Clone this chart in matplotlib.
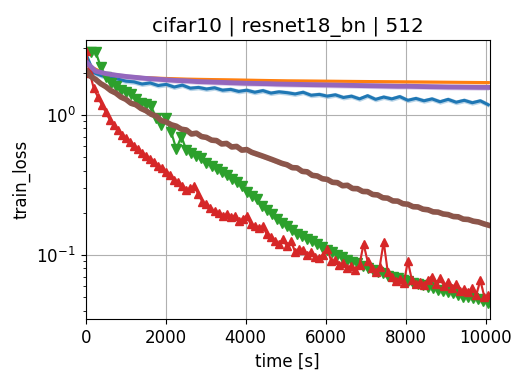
import numpy as np
import matplotlib
matplotlib.use('Agg')
import matplotlib.pyplot as plt

# train loss, one list per run
blue_loss = [2.75, 2.0, 1.9, 1.84, 1.8, 1.74, 1.72, 1.66, 1.69, 1.62, 1.65, 1.58, 1.63,
             1.55, 1.57, 1.53, 1.56, 1.5, 1.52, 1.47, 1.5, 1.45, 1.49, 1.43, 1.46, 1.44,
             1.41, 1.45, 1.38, 1.4, 1.36, 1.39, 1.33, 1.36, 1.3, 1.37, 1.29, 1.34, 1.3,
             1.35, 1.27, 1.31, 1.26, 1.3, 1.24, 1.29, 1.23, 1.27, 1.22, 1.26, 1.18]

orange_loss = [2.3, 1.95, 1.88, 1.84, 1.82, 1.8, 1.79, 1.78, 1.77, 1.76, 1.75, 1.745,
               1.74, 1.735, 1.73, 1.725, 1.72, 1.715, 1.71, 1.705, 1.70]

green_loss = [2.8, 2.8, 2.8, 2.2, 1.85, 1.68, 1.6, 1.5, 1.45, 1.4, 1.3, 1.22, 1.2, 1.15,
              0.95, 0.85, 0.95, 0.75, 0.57, 0.7, 0.56, 0.53, 0.51, 0.49, 0.45, 0.43, 0.41,
              0.39, 0.37, 0.35, 0.33, 0.31, 0.28, 0.265, 0.25, 0.225, 0.21, 0.195, 0.18,
              0.17, 0.16, 0.15, 0.142, 0.137, 0.13, 0.125, 0.12, 0.114, 0.108, 0.104, 0.1,
              0.097, 0.092, 0.089, 0.087, 0.083, 0.081, 0.078, 0.075, 0.074, 0.071, 0.07,
              0.068, 0.066, 0.065, 0.063, 0.062, 0.061, 0.059, 0.058, 0.056, 0.055, 0.054,
              0.053, 0.052, 0.05, 0.05, 0.049, 0.048, 0.047, 0.045]

red_loss = [2.85, 2.0, 1.55, 1.35, 1.18, 1.05, 0.92, 0.84, 0.78, 0.72, 0.68, 0.64, 0.6,
            0.57, 0.53, 0.51, 0.48, 0.46, 0.43, 0.42, 0.39, 0.37, 0.345, 0.33, 0.31, 0.29,
            0.3, 0.31, 0.27, 0.24, 0.23, 0.215, 0.205, 0.2, 0.19, 0.195, 0.185, 0.19, 0.175,
            0.18, 0.19, 0.165, 0.16, 0.155, 0.16, 0.14, 0.135, 0.125, 0.12, 0.13, 0.115,
            0.125, 0.105, 0.11, 0.108, 0.1, 0.105, 0.097, 0.095, 0.1, 0.11, 0.09, 0.092,
            0.085, 0.088, 0.08, 0.083, 0.078, 0.085, 0.12, 0.09, 0.08, 0.076, 0.082, 0.124,
            0.076, 0.07, 0.065, 0.067, 0.063, 0.09, 0.066, 0.062, 0.064, 0.061, 0.066, 0.07,
            0.062, 0.068, 0.06, 0.064, 0.058, 0.062, 0.055, 0.057, 0.054, 0.058, 0.052,
            0.066, 0.05, 0.052]

purple_loss = [2.4, 2.05, 1.97, 1.92, 1.88, 1.85, 1.82, 1.8, 1.78, 1.76, 1.75, 1.73, 1.72,
               1.71, 1.7, 1.69, 1.68, 1.675, 1.67, 1.66, 1.655, 1.65, 1.645, 1.64, 1.635,
               1.63, 1.625, 1.62, 1.615, 1.61, 1.605, 1.6, 1.6, 1.595, 1.59, 1.585, 1.58,
               1.578, 1.575, 1.572, 1.57]

brown_loss = [2.1, 1.88, 1.79, 1.67, 1.59, 1.49, 1.43, 1.34, 1.29, 1.21, 1.18, 1.11, 1.07,
              1.01, 0.98, 0.91, 0.89, 0.85, 0.83, 0.79, 0.78, 0.73, 0.74, 0.7, 0.69, 0.66,
              0.655, 0.62, 0.625, 0.59, 0.595, 0.56, 0.565, 0.54, 0.525, 0.51, 0.495, 0.48,
              0.465, 0.45, 0.44, 0.42, 0.418, 0.395, 0.392, 0.37, 0.366, 0.35, 0.346, 0.33,
              0.328, 0.312, 0.314, 0.298, 0.297, 0.284, 0.283, 0.27, 0.268, 0.256, 0.254,
              0.243, 0.242, 0.232, 0.23, 0.221, 0.22, 0.212, 0.21, 0.203, 0.202, 0.196,
              0.194, 0.188, 0.187, 0.18, 0.179, 0.174, 0.172, 0.167, 0.163]

t_end = 10070

fig, ax = plt.subplots(figsize=(5.32, 3.8), dpi=100)
fig.subplots_adjust(left=0.161, right=0.921, top=0.895, bottom=0.16)

runs = [
    (blue_loss, 'tab:blue', None, 2.2, 7, 0.04),
    (orange_loss, 'tab:orange', None, 2.2, 7, 0.03),
    (green_loss, 'tab:green', 'v', 1.5, 7, 0.05),
    (red_loss, 'tab:red', '^', 1.5, 6, 0.05),
    (purple_loss, 'tab:purple', None, 3.5, 7, 0.045),
    (brown_loss, 'tab:brown', None, 4.0, 7, 0.04),
]

for loss, color, marker, lw, ms, spread in runs:
    loss = np.array(loss)
    t = np.linspace(0, t_end, len(loss))
    ax.fill_between(t, loss * (1 - spread), loss * (1 + spread), color=color, alpha=0.3, lw=0)
    ax.plot(t, loss, color=color, marker=marker, lw=lw, ms=ms)

ax.set_yscale('log')
ax.set_xlim(0, 10110)
ax.set_ylim(0.0347, 3.43)
ax.grid(True)
ax.set_title('cifar10 | resnet18_bn | 512', fontsize=14.4)
ax.set_xlabel('time [s]', fontsize=12)
ax.set_ylabel('train_loss', fontsize=12)
ax.tick_params(labelsize=12)

plt.savefig('out.png')
